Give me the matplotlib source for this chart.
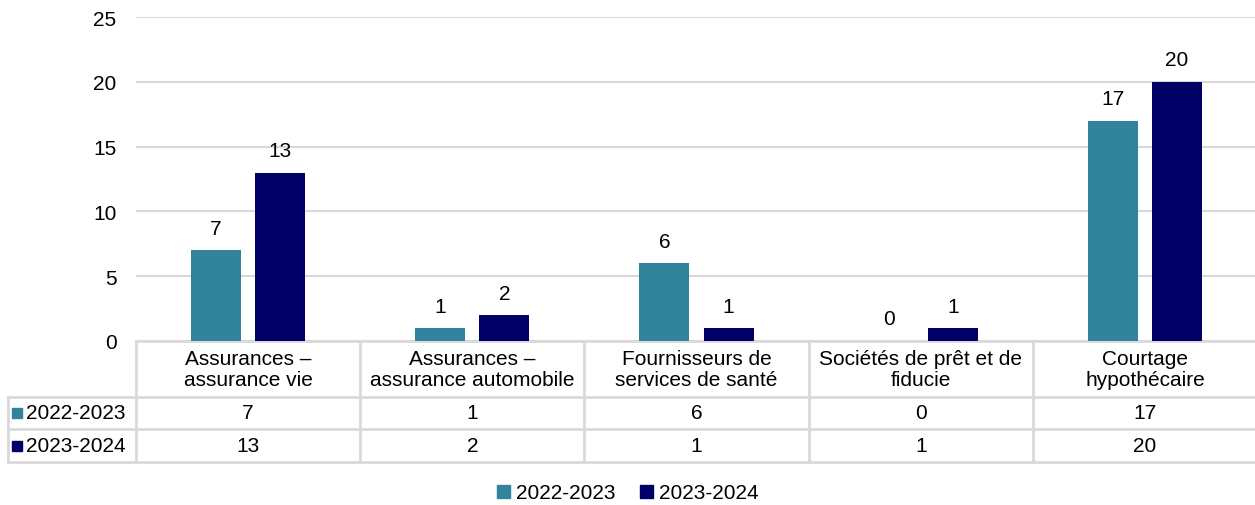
import matplotlib
matplotlib.use("Agg")
import matplotlib.pyplot as plt
import matplotlib.transforms as mtransforms
from matplotlib.patches import Rectangle
from matplotlib.lines import Line2D

plt.rcParams['font.family'] = ['Liberation Sans', 'DejaVu Sans']

categories = ["Assurances –\nassurance vie", "Assurances –\nassurance automobile",
              "Fournisseurs de\nservices de santé", "Sociétés de prêt et de\nfiducie",
              "Courtage\nhypothécaire"]
series_names = ["2022-2023", "2023-2024"]
values_2022 = [7, 1, 6, 0, 17]
values_2023 = [13, 2, 1, 1, 20]
yticks = [0, 5, 10, 15, 20, 25]

colors = ["#31849B", "#000066"]
grid_col = "#D9D9D9"
FS = 15

W, H = 1255, 506
fig = plt.figure(figsize=(W / 100, H / 100), dpi=100)
ax = fig.add_axes([136 / W, 1 - 342 / H, 1121 / W, 324 / H])

n = len(categories)
xs = list(range(n))
bw = 0.223
off = 0.143
for vals, sign, col in [(values_2022, -1, colors[0]), (values_2023, 1, colors[1])]:
    bars = ax.bar([x + sign * off for x in xs], vals, width=bw, color=col, zorder=3)
    for b, v in zip(bars, vals):
        ax.annotate(str(v), (b.get_x() + b.get_width() / 2, v), xytext=(0, 9),
                    textcoords="offset points", ha="center", va="bottom",
                    fontsize=FS, color="black")

ax.set_xlim(-0.5, n - 0.5)
ax.set_ylim(0, 25)
ax.set_yticks(yticks)
ax.set_yticklabels([str(t) for t in yticks], fontsize=FS)
ax.tick_params(axis="y", length=0, pad=14)
ax.tick_params(axis="x", length=0, labelbottom=False)
ax.yaxis.grid(True, color=grid_col, linewidth=1.5, zorder=0)
for s in ax.spines.values():
    s.set_visible(False)

# Data table below axes
tr = mtransforms.blended_transform_factory(ax.transData, ax.transAxes)
ah = 324.0
y0 = 0.0
y_head = -(398 - 342) / ah
y_r1 = -(430 - 342) / ah
y_r2 = -(463 - 342) / ah
x_left = (8 - 136) / (1121 / n) - 0.5
lw = 2.0
lkw = dict(color=grid_col, linewidth=lw, transform=tr, clip_on=False, zorder=1)

ax.add_line(Line2D([-0.5, n - 0.5], [y0, y0], **lkw))
for yy in [y_head, y_r1, y_r2]:
    ax.add_line(Line2D([x_left, n - 0.5], [yy, yy], **lkw))
for i in range(n + 1):
    ax.add_line(Line2D([i - 0.5, i - 0.5], [y0, y_r2], **lkw))
ax.add_line(Line2D([x_left, x_left], [y_head, y_r2], **lkw))

for i, c in enumerate(categories):
    ax.text(i, (y0 + y_head) / 2, c, transform=tr, ha="center", va="center",
            fontsize=FS, linespacing=1.1, clip_on=False)
rows = [(series_names[0], values_2022, colors[0], (y_head + y_r1) / 2),
        (series_names[1], values_2023, colors[1], (y_r1 + y_r2) / 2)]
px = 1121 / n
kx = (12 - 136) / px - 0.5
kw_ = 10 / px
kh = 10 / ah
for name, vals, col, yc in rows:
    ax.add_patch(Rectangle((kx, yc - kh / 2), kw_, kh, color=col, transform=tr, clip_on=False))
    ax.text(kx + kw_ + 4 / px, yc, name, transform=tr, ha="left", va="center",
            fontsize=FS, clip_on=False)
    for i, v in enumerate(vals):
        ax.text(i, yc, str(v), transform=tr, ha="center", va="center",
                fontsize=FS, clip_on=False)

handles = [Rectangle((0, 0), 1, 1, color=c) for c in colors]
fig.legend(handles, series_names, loc="center", bbox_to_anchor=(628 / W, 1 - 494 / H),
           ncol=2, frameon=False, fontsize=FS, handlelength=0.6, handleheight=0.6,
           handletextpad=0.3, columnspacing=1.2)

fig.savefig("out.png", dpi=100)
